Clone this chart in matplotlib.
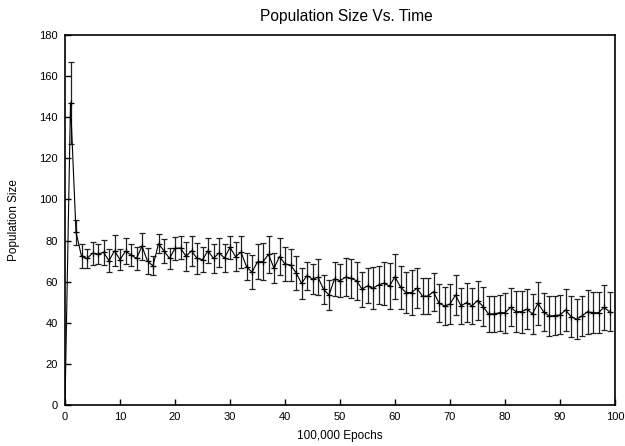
import matplotlib
matplotlib.use("Agg")
import matplotlib.pyplot as plt
import numpy as np

plt.rcParams['font.family'] = ['Liberation Sans', 'DejaVu Sans']

epochs = list(range(0, 100))
pop_size = [
    0.0, 147.0, 84.1, 72.3, 71.3, 73.8, 73.4, 74.3, 70.2, 75.0,
    70.7, 74.8, 73.0, 71.3, 77.2, 70.0, 67.7, 78.4, 75.0, 71.3,
    76.2, 76.4, 72.3, 75.0, 71.3, 70.7, 75.0, 71.3, 74.0, 71.5,
    76.7, 72.2, 74.3, 67.3, 64.6, 69.7, 69.7, 73.3, 66.5, 72.2,
    68.6, 68.1, 64.4, 59.2, 62.9, 61.3, 62.1, 56.3, 53.5, 61.3,
    60.5, 62.1, 61.6, 60.5, 56.4, 57.9, 56.8, 58.4, 59.2, 57.9,
    62.4, 57.3, 54.7, 54.7, 56.8, 52.9, 53.0, 55.1, 49.5, 48.2,
    49.1, 53.5, 48.2, 49.8, 48.2, 50.8, 47.9, 44.3, 44.3, 44.9,
    44.9, 47.5, 45.4, 45.4, 46.6, 44.3, 49.5, 45.4, 43.3, 43.5,
    43.8, 46.2, 43.0, 41.7, 43.3, 45.4, 44.9, 44.9, 47.5, 45.4,
]
pop_err = [
    0.0, 20.0, 6.1, 5.9, 4.8, 5.7, 4.9, 6.0, 5.6, 7.5,
    5.2, 6.4, 5.2, 5.7, 6.6, 6.4, 4.6, 4.7, 5.7, 5.3,
    5.7, 5.6, 7.2, 7.2, 7.4, 6.1, 6.1, 7.0, 7.1, 7.0,
    5.6, 7.1, 7.7, 6.7, 8.3, 8.5, 8.9, 8.9, 7.3, 8.9,
    8.3, 7.7, 8.3, 7.5, 6.9, 7.5, 8.8, 7.1, 7.1, 8.1,
    7.9, 9.2, 9.6, 9.2, 8.5, 8.5, 10.1, 9.3, 10.5, 11.1,
    11.0, 10.4, 10.1, 10.8, 9.7, 8.8, 8.7, 9.3, 9.2, 9.2,
    9.9, 9.7, 8.7, 9.3, 8.7, 9.6, 9.4, 8.7, 8.7, 8.7,
    9.7, 9.2, 10.0, 10.2, 9.7, 9.6, 10.5, 9.2, 9.6, 9.3,
    9.5, 10.3, 9.9, 9.7, 9.7, 10.7, 10.1, 10.1, 10.9, 9.5,
]
x_ticks = [0, 10, 20, 30, 40, 50, 60, 70, 80, 90, 100]
y_ticks = [0, 20, 40, 60, 80, 100, 120, 140, 160, 180]

fig = plt.figure(figsize=(6.25, 4.46), dpi=100)
ax = fig.add_axes([0.104, 0.092, 0.88, 0.8295])

ax.errorbar(epochs, pop_size, yerr=pop_err, color='black', ecolor='#222222',
            elinewidth=0.9, capsize=2.5, capthick=0.9, linewidth=0.8,
            marker='+', markersize=4, markeredgewidth=0.9)

ax.set_xlim(0, 100)
ax.set_ylim(0, 180)
ax.set_xticks(x_ticks)
ax.set_yticks(y_ticks)
ax.tick_params(direction='in', length=4, width=1, labelsize=8, pad=5,
               top=False, right=False)
for s in ax.spines.values():
    s.set_linewidth(1.2)

ax.set_title('Population Size Vs. Time', fontsize=11.2, pad=10, x=0.511)
ax.set_xlabel('100,000 Epochs', fontsize=8.5, labelpad=6)
ax.set_ylabel('Population Size', fontsize=8.5, labelpad=14)

fig.savefig('out.png', dpi=100)
